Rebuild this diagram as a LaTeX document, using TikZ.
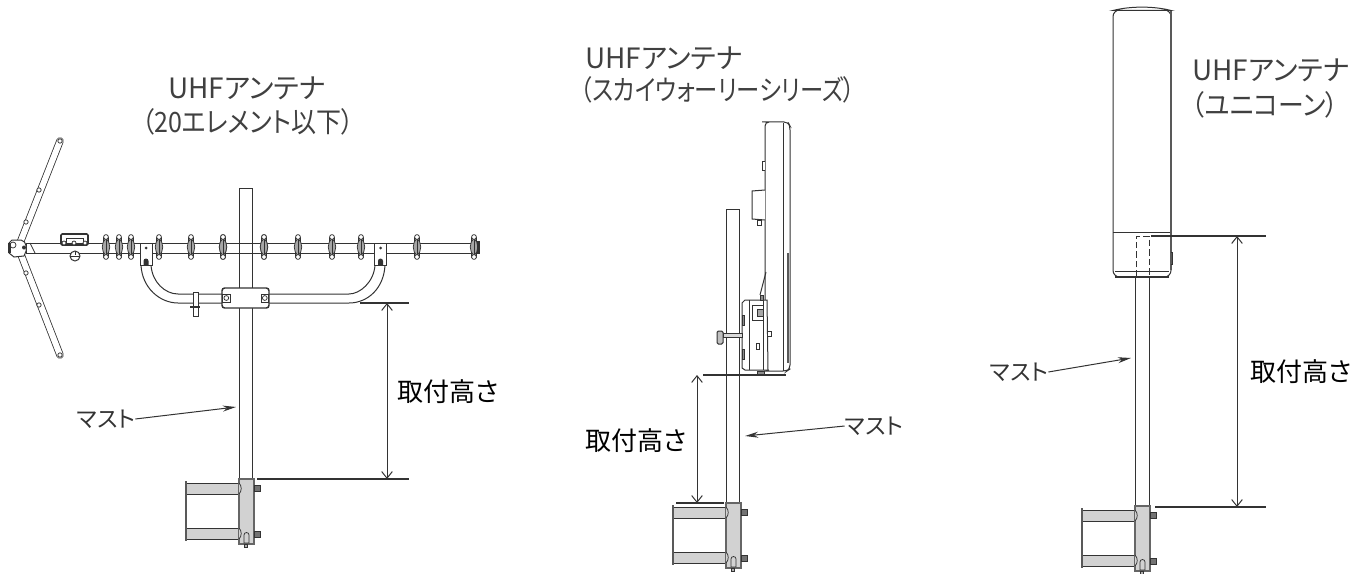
\documentclass[tikz,border=0pt]{standalone}
\usepackage{graphicx}
\usepackage{fontspec}
\setmainfont{Noto Sans CJK JP}[RawFeature=+palt]
\usetikzlibrary{arrows.meta}
\definecolor{ink}{HTML}{333333}
\definecolor{bracketgrey}{HTML}{D2D2D2}
\newcommand{\fitwidth}[2]{\resizebox{#1*0.75pt}{\height}{#2}}
\tikzset{
  ln/.style={draw=ink,line width=0.75pt},
  thin ln/.style={draw=ink,line width=0.55pt},
  grey ln/.style={draw=black!60,line width=1pt},
  lbl/.style={inner sep=0pt,font=\fontsize{21pt}{24pt}\selectfont,text=black!75},
  hlbl/.style={inner sep=0pt,font=\fontsize{19.5pt}{22pt}\selectfont,text=black},
  mlbl/.style={inner sep=0pt,font=\fontsize{17pt}{20pt}\selectfont,text=black!80},
  dim/.style={draw=ink,line width=0.75pt,{Straight Barb[length=5pt,width=8pt]}-{Straight Barb[length=5pt,width=8pt]}},
  ext/.style={draw=ink,line width=0.85pt},
  lead/.style={draw=ink,line width=0.75pt,-{Stealth[length=10pt,width=4.5pt]}},
  element/.pic={
    \path[thin ln,fill=white] (-2.6,-10) rectangle (2.6,10);
    \path[thin ln,fill=black!35] (0,-9) .. controls (-5,-4) and (-5,4) .. (0,9) .. controls (5,4) and (5,-4) .. (0,-9);
    \path[ln] (0,-9) -- (0,9);
    \path[thin ln,fill=white] (0,-10) circle (2.4) (0,10) circle (2.4);
  },
  clip block/.pic={
    \path[thin ln,fill=white] (-6,0) -- (6,0) -- (6,22) -- (-6,22) -- cycle;
    \path[fill=ink] (0,5) circle (1.5);
    \path[fill=ink] (-2.5,22) -- (-2.5,18) arc[start angle=180,end angle=360,radius=2.5] -- (2.5,22) -- cycle;
  },
  mast bracket/.pic={
    \path[ln,fill=bracketgrey] (-53,4) rectangle (2,15);
    \path[ln,fill=bracketgrey] (-53,49) rectangle (2,60);
    \path[grey ln,fill=bracketgrey] (0,0) rectangle (15,65);
    \path[draw=black!65,line width=1.5pt] (-53.5,2) -- (-53.5,62);
    \path[thin ln,fill=bracketgrey] (0,4) .. controls (3,7) and (3,12) .. (0,15);
    \path[thin ln,fill=bracketgrey] (0,49) .. controls (3,52) and (3,57) .. (0,60);
    \path[draw=ink,line width=0.4pt,fill=black!55] (15,6) rectangle (21,12) (15,52) rectangle (21,58);
    \path[thin ln,fill=bracketgrey] (5,64) -- (5,56) arc[start angle=180,end angle=360,radius=2.5] -- (10,64) -- cycle;
    \path[thin ln,fill=black!30] (5.5,65) rectangle (8.5,68);
  }
}
\begin{document}
\begin{tikzpicture}[x=0.75pt,y=-0.75pt]
\useasboundingbox (0,0) rectangle (1366,574);

% ---------- antenna 1: Yagi ----------
% dipole
\path[draw=ink,line width=5.6pt,line cap=round] (20,243) -- (60,141);
\path[draw=white,line width=4.4pt,line cap=round] (20,243) -- (60,141);
\path[draw=ink,line width=5.6pt,line cap=round] (20,252) -- (60,355);
\path[draw=white,line width=4.4pt,line cap=round] (20,252) -- (60,355);
\foreach \p in {(60,141),(39,190),(26,222),(26,273),(39,305),(60,355)} \path[thin ln,fill=white] \p circle (2.2);
% boom
\path[ln,fill=white] (26,243) rectangle (477,253);
\foreach \ex in {106,119,131,159,191,223,264,298,332,361,417,474} \pic at (\ex,247) {element};
\path[fill=ink] (477,241) rectangle (480,254);
% hub
\path[ln,fill=white] (12,240) -- (21,240) .. controls (27,241) and (28,250) .. (24,256) -- (14,257) -- (9,253) -- (9,243) -- cycle;
\path[fill=ink] (8,243) rectangle (11,253);
\path[fill=ink] (24,247.5) circle (2);
\path[thin ln] (30,243) -- (35,253) (13,245) circle (3);
% feed box
\path[draw=ink,line width=1.2pt,fill=white,rounded corners=1pt] (61,234) rectangle (88,245);
\path[thin ln] (66,238) rectangle (83,243);
\path[thin ln,fill=white] (64,243) circle (2) (74,243) circle (2) (85,243) circle (2);
\path[ln,fill=white] (75,256) circle (5);
\path[thin ln] (75,251) -- (75,255) (70,256) -- (80,256);
% mount tube
\path[ln] (141,265) .. controls (142,288) and (160,303) .. (178,303) -- (349,303) .. controls (368,303) and (384,288) .. (385,265);
\path[ln] (151,265) .. controls (152,282) and (165,294) .. (178,294) -- (349,294) .. controls (360,294) and (374,282) .. (375,265);
\pic at (146,243) {clip block};
\pic at (380.5,243) {clip block};
% mast (under the boom)
\path[ln,fill=white] (239,479) -- (239,188) -- (252.5,188) -- (252.5,479);
\path[fill=white] (240,244) rectangle (252,252);
\path[ln] (225,243) -- (258,243) (225,253) -- (258,253);
\pic at (264,247) {element};
\pic at (223,247) {element};
% clamp
\path[draw=ink,line width=1.1pt,fill=white,rounded corners=2pt] (222,288) rectangle (269,308);
\path[ln,fill=white] (222.5,294) rectangle (230,302) (261,294) rectangle (268.5,302);
\path[thin ln] (226.3,298) circle (2.4) (264.8,298) circle (2.4);
% small bolt
\path[thin ln,fill=white] (193,292) rectangle (198,316);
\path[draw=ink,line width=1.5pt] (190,307) -- (200,307);
\pic at (239,479) {mast bracket};
% dimensions
\coordinate (d1a) at (360,303); \coordinate (d1b) at (409,303);
\coordinate (d1c) at (257,479); \coordinate (d1d) at (409,479);
\coordinate (d1t) at (387,303); \coordinate (d1u) at (387,479);
\path[ext] (d1a) -- (d1b); \path[ext] (d1c) -- (d1d);
\path[dim] (d1t) -- (d1u);
\node[hlbl] (h1) at (448,392) {取付高さ};
\node[mlbl] (m1) at (106,419) {マスト};
\coordinate (m1t) at (236,407);
\path[lead] (m1.east) -- (m1t);
\node[lbl] (t1a) at (247,88) {UHFアンテナ};
\node[lbl] (t1b) at (248,122) {\resizebox{159pt}{\height}{（20エレメント以下）}};

% ---------- antenna 2: panel ----------
\path[ln,fill=white] (726,504) -- (726,209) -- (739,209) -- (739,504);
% panel body
\path[ln,fill=white,rounded corners=3pt] (766,122) -- (788,122) -- (790,126) -- (790,369) -- (787,371) -- (768,371) -- (765,371) -- (765,295) -- (765,122) -- cycle;
\path[ln] (783,123) -- (783,371);
\path[draw=black!65,line width=1.7pt] (788,253) -- (788,363);
\path[ln,fill=white] (765,162) -- (762,162) -- (762,171) -- (765,171);
\path[ln,fill=white] (765,190) -- (752,191) -- (752,219) -- (765,220);
\path[thin ln,fill=white] (757,220) rectangle (761,225);
\path[ln] (766,272) -- (760,295);
\path[ln,fill=white] (745,300) -- (767,300) -- (768,370) -- (745,370) -- (742,368) -- (742,303) -- cycle;
\path[ln] (749,300) -- (749,370) (763,300) -- (763,370);
\path[thin ln,fill=white] (752,305) rectangle (763,320);
\path[thin ln,fill=black!35] (757,309) rectangle (763,316);
\path[thin ln,fill=white] (756,343) rectangle (759,349);
\path[thin ln,fill=white] (768,331) -- (771,331) -- (771,336) -- (768,336);
\path[thin ln,fill=black!45] (757,371) rectangle (764,374);
\path[thin ln,fill=black!45] (760,295) rectangle (763,300);
\path[thin ln,fill=black!45] (742,315) rectangle (744,325) (742,349) rectangle (744,359);
% knob
\path[thin ln,fill=black!15] (723,333.5) rectangle (742,337);
\path[ln,fill=black!25,rounded corners=1pt] (717,331) rectangle (723,344);
\pic at (726,503) {mast bracket};
% dimensions
\coordinate (d2a) at (703,375); \coordinate (d2b) at (786,375);
\coordinate (d2c) at (676,503); \coordinate (d2d) at (724,503);
\coordinate (d2t) at (697,375); \coordinate (d2u) at (697,503);
\path[ext] (d2a) -- (d2b); \path[ext] (d2c) -- (d2d);
\path[dim] (d2t) -- (d2u);
\node[hlbl] (h2) at (636,441) {取付高さ};
\node[mlbl] (m2) at (874,426) {マスト};
\coordinate (m2t) at (745,436);
\path[lead] (m2.west) -- (m2t);
\node[lbl] (t2a) at (664,58) {UHFアンテナ};
\node[lbl] (t2b) at (718,90) {\resizebox{206pt}{\height}{（スカイウォーリーシリーズ）}};

% ---------- antenna 3: cylinder ----------
\path[ln,fill=white,rounded corners=5pt] (1113,277) -- (1113,10) -- (1171,10) -- (1171,277) -- cycle;
\path[ln,fill=white] (1113,10.5) .. controls (1130,6) and (1154,6) .. (1171,10.5) -- cycle;
\path[draw=ink,line width=0.75pt] (1113,232) -- (1171,232);
\path[draw=black!65,line width=1.2pt] (1171,11) -- (1171,270);
\path[draw=ink,line width=1.3pt] (1115,277) -- (1169,277);
\path[thin ln] (1115,271) -- (1169,271);
\path[draw=ink,line width=0.7pt,dash pattern=on 5pt off 2.2pt] (1136,277) -- (1136,236) -- (1149,236) -- (1149,277);
\path[ln] (1171,252) -- (1172,252) -- (1172,264) -- (1171,264);
\path[ln,fill=white] (1135.6,506) -- (1135.6,277) -- (1149,277) -- (1149,506);
\pic at (1135,506) {mast bracket};
% dimensions
\coordinate (d3a) at (1151,236); \coordinate (d3b) at (1266,236);
\coordinate (d3c) at (1155,507); \coordinate (d3d) at (1266,507);
\coordinate (d3t) at (1237,236); \coordinate (d3u) at (1237,507);
\path[ext] (d3a) -- (d3b); \path[ext] (d3c) -- (d3d);
\path[dim] (d3t) -- (d3u);
\node[hlbl] (h3) at (1301,372) {取付高さ};
\node[mlbl] (m3) at (1019,372) {マスト};
\coordinate (m3t) at (1131,358);
\path[lead] (m3.east) -- (m3t);
\node[lbl] (t3a) at (1271,70) {UHFアンテナ};
\node[lbl] (t3b) at (1265,105) {\resizebox{110pt}{\height}{（ユニコーン）}};
\end{tikzpicture}
\end{document}
